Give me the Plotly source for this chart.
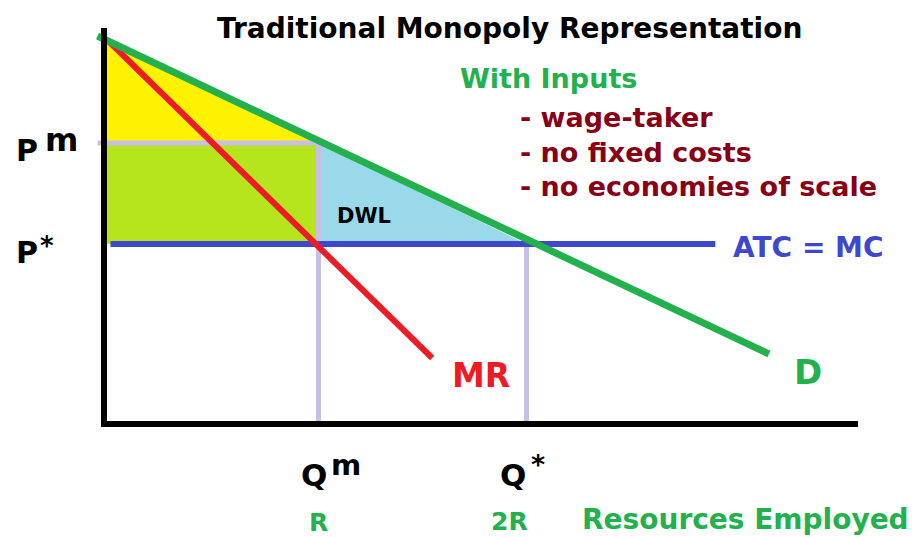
import plotly.graph_objects as go

# ---- data ----
demand_q = [-0.03, 3.10]
demand_p = [3.88, 0.70]
mr_q = [0.03, 1.53]
mr_p = [3.81, 0.66]
q_m = 1.0          # R
q_star = 1.97      # 2R
p_m = 2.81
p_star = 1.80
p_top = 3.86       # demand at Q = 0
mc_q = [0.03, 2.85]
axis_x_end = 3.515
axis_y_top = 3.96

# colours (MS Paint palette)
YELLOW = "#FFF200"
LIME = "#B5E61D"
TURQ = "#99D9EA"
LAV = "#C8BFE7"
INDIGO = "#3F48CC"
GREEN = "#22B14C"
RED = "#ED1C24"
DRED = "#880015"

W, H = 917, 537
X0, XU = 104, 214.5   # pixel origin / pixels per unit
Y0, YU = 424, 100

def dx(px):
    return (px - X0) / XU

def dy(py):
    return (Y0 - py) / YU

fig = go.Figure()

# consumer surplus (yellow)
fig.add_trace(go.Scatter(x=[0, q_m, 0, 0], y=[p_top, p_m, p_m, p_top], fill="toself",
                         fillcolor=YELLOW, mode="lines", line=dict(width=0), hoverinfo="skip"))
# monopoly profit (lime)
fig.add_trace(go.Scatter(x=[0, q_m, q_m, 0, 0], y=[p_m, p_m, p_star, p_star, p_m], fill="toself",
                         fillcolor=LIME, mode="lines", line=dict(width=0), hoverinfo="skip"))
# DWL (turquoise)
fig.add_trace(go.Scatter(x=[q_m, q_star, q_m, q_m], y=[p_m, p_star, p_star, p_m], fill="toself",
                         fillcolor=TURQ, mode="lines", line=dict(width=0), hoverinfo="skip"))

# lavender guide lines
fig.add_trace(go.Scatter(x=[-0.03, q_m, q_m], y=[p_m, p_m, 0], mode="lines",
                         line=dict(color=LAV, width=5), hoverinfo="skip"))
fig.add_trace(go.Scatter(x=[q_star, q_star], y=[p_star, 0], mode="lines",
                         line=dict(color=LAV, width=5), hoverinfo="skip"))

# ATC = MC
fig.add_trace(go.Scatter(x=mc_q, y=[p_star, p_star], mode="lines",
                         line=dict(color=INDIGO, width=6), hoverinfo="skip"))
# MR
fig.add_trace(go.Scatter(x=mr_q, y=mr_p, mode="lines",
                         line=dict(color=RED, width=6), hoverinfo="skip"))
# Demand
fig.add_trace(go.Scatter(x=demand_q, y=demand_p, mode="lines",
                         line=dict(color=GREEN, width=7), hoverinfo="skip"))

# axes
fig.add_trace(go.Scatter(x=[0, 0, axis_x_end], y=[axis_y_top, 0, 0], mode="lines",
                         line=dict(color="black", width=6), hoverinfo="skip"))

FONT = "DejaVu Sans"

def txt(text, px, py, size, color, anchor="center"):
    fig.add_annotation(x=dx(px), y=dy(py), xref="x", yref="y", text=text, showarrow=False,
                       xanchor=anchor, yanchor="middle",
                       font=dict(family=FONT, size=size, color=color, weight="bold"))

txt("Traditional Monopoly Representation", 509, 28, 28, "black")
txt("With Inputs", 458, 78, 27, GREEN, "left")
txt("- wage-taker", 518, 117, 27, DRED, "left")
txt("- no fixed costs", 518, 152, 27, DRED, "left")
txt("- no economies of scale", 518, 186, 27, DRED, "left")
txt("ATC = MC", 731, 247, 28, INDIGO, "left")
txt("DWL", 364, 216, 21, "black")
txt("MR", 481, 375, 33, RED)
txt("D", 808, 372, 34, GREEN)
txt("P", 27, 150, 30, "black")
txt("m", 61, 140, 32, "black")
txt("P", 27, 252, 30, "black")
txt("*", 47, 246, 26, "black")
txt("Q", 314, 475, 31, "black")
txt("m", 346, 465, 29, "black")
txt("Q", 513, 475, 31, "black")
txt("*", 538, 464, 27, "black")
txt("R", 318, 522, 25, GREEN)
txt("2R", 509, 521, 25, GREEN)
txt("Resources Employed", 580, 519, 28, GREEN, "left")

fig.update_layout(
    width=W, height=H, margin=dict(l=0, r=0, t=0, b=0),
    paper_bgcolor="white", plot_bgcolor="white", showlegend=False,
    xaxis=dict(range=[dx(0), dx(W)], visible=False, fixedrange=True),
    yaxis=dict(range=[dy(H), dy(0)], visible=False, fixedrange=True),
)

fig.write_html("out.html", config={"displayModeBar": False},
               post_script="document.body.style.margin='0px';document.body.style.overflow='hidden';")
